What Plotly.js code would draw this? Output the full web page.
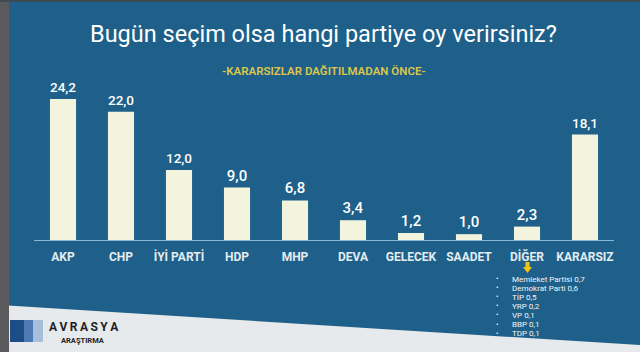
<!DOCTYPE html>
<html>
<head>
<meta charset="utf-8">
<script src="https://cdn.plot.ly/plotly-3.0.1.min.js"></script>
<style>html,body{margin:0;padding:0;background:#1e6089;}#chart{width:640px;height:352px;}</style>
</head>
<body>
<div id="chart"></div>
<script>
// ---- data ----
const parties = ["AKP", "CHP", "İYİ PARTİ", "HDP", "MHP", "DEVA", "GELECEK", "SAADET", "DİĞER", "KARARSIZ"];
const shares  = [24.2, 22.0, 12.0, 9.0, 6.8, 3.4, 1.2, 1.0, 2.3, 18.1];
const otherNames  = ["Memleket Partisi", "Demokrat Parti", "TİP", "YRP", "VP", "BBP", "TDP"];
const otherShares = [0.7, 0.6, 0.5, 0.2, 0.1, 0.1, 0.1];
const titleText = "Bugün seçim olsa hangi partiye oy verirsiniz?";
const subtitleText = "-KARARSIZLAR DAĞITILMADAN ÖNCE-";

// ---- layout helpers (pixel -> paper) ----
const W = 640, H = 352, ML = 34, MR = 26, MT = 60, MB = 112;
const PW = W - ML - MR, PH = H - MT - MB;
const px = x => (x - ML) / PW;
const py = y => (H - MB - y) / PH;

const FONT = "Roboto, 'DejaVu Sans', sans-serif";

const trace = {
  type: "bar",
  x: parties,
  y: shares,
  width: 0.45,
  marker: {color: "#f2f4dd", line: {width: 0}},
  texttemplate: "%{y:.1f}",
  textposition: "outside",
  cliponaxis: false,
  textfont: {family: FONT, size: 15, color: "#ffffff", weight: 500},
  hoverinfo: "x+y"
};

const annotations = [
  {xref: "paper", yref: "paper", x: px(323), y: py(34), text: titleText, showarrow: false,
   font: {family: FONT, size: 23.5, color: "#ffffff"}, xanchor: "center", yanchor: "middle"},
  {xref: "paper", yref: "paper", x: px(324), y: py(71), text: subtitleText, showarrow: false,
   font: {family: FONT, size: 11.5, color: "#dcc64c", weight: 600}, xanchor: "center", yanchor: "middle"},
  {xref: "paper", yref: "paper", x: px(47), y: py(327), text: "A\u2009V\u2009R\u2009A\u2009S\u2009Y\u2009A", showarrow: false,
   font: {family: FONT, size: 12, color: "#1f1f24", weight: 700}, xanchor: "left", yanchor: "middle"},
  {xref: "paper", yref: "paper", x: px(59), y: py(340), text: "ARAŞTIRMA", showarrow: false,
   font: {family: FONT, size: 7.5, color: "#1f1f24", weight: 700}, xanchor: "left", yanchor: "middle"}
];
otherNames.forEach((n, i) => {
  const yy = 279 + i * 9.1;
  annotations.push({xref: "paper", yref: "paper", x: px(497), y: py(yy), text: "•", showarrow: false,
    font: {family: FONT, size: 7, color: "#ffffff"}, xanchor: "center", yanchor: "middle"});
  annotations.push({xref: "paper", yref: "paper", x: px(510), y: py(yy),
    text: n + " " + otherShares[i].toFixed(1).replace(".", ","), showarrow: false,
    font: {family: FONT, size: 8, color: "#f2f5f7"}, xanchor: "left", yanchor: "middle"});
});

const shapes = [
  // bottom light band
  {type: "path", xref: "paper", yref: "paper", layer: "below",
   path: `M ${px(0)} ${py(305)} L ${px(640)} ${py(345)} L ${px(640)} ${py(352)} L ${px(0)} ${py(352)} Z`,
   fillcolor: "#e6eaec", line: {width: 0}},
  // left grey strip
  {type: "rect", xref: "paper", yref: "paper", x0: px(0), x1: px(9), y0: py(0), y1: py(352),
   fillcolor: "#5b5b5d", line: {width: 0}},
  // top thin strip
  {type: "rect", xref: "paper", yref: "paper", x0: px(0), x1: px(640), y0: py(0), y1: py(2),
   fillcolor: "#3f4a55", line: {width: 0}},
  // logo blocks
  {type: "rect", xref: "paper", yref: "paper", x0: px(10), x1: px(24), y0: py(320), y1: py(342),
   fillcolor: "#1d4d86", line: {width: 0}},
  {type: "rect", xref: "paper", yref: "paper", x0: px(24), x1: px(33), y0: py(320), y1: py(342),
   fillcolor: "#4f7bb4", line: {width: 0}},
  {type: "rect", xref: "paper", yref: "paper", x0: px(33), x1: px(43), y0: py(320), y1: py(342),
   fillcolor: "#a8bfdc", line: {width: 0}},
  // yellow arrow under DİĞER
  {type: "path", xref: "paper", yref: "paper",
   path: `M ${px(525.5)} ${py(262)} L ${px(529.5)} ${py(262)} L ${px(529.5)} ${py(267)} L ${px(532)} ${py(267)} L ${px(527.5)} ${py(273)} L ${px(523)} ${py(267)} L ${px(525.5)} ${py(267)} Z`,
   fillcolor: "#f0c419", line: {width: 0}}
];

const layout = {
  width: W, height: H,
  margin: {l: ML, r: MR, t: MT, b: MB, pad: 0},
  paper_bgcolor: "#1e6089",
  plot_bgcolor: "rgba(0,0,0,0)",
  separators: ",.",
  showlegend: false,
  bargap: 0.55,
  xaxis: {
    type: "category", range: [-0.5, 9.5], fixedrange: true,
    showline: true, linecolor: "#8cb6d0", linewidth: 1,
    showgrid: false, zeroline: false, ticks: "outside", ticklen: 6, tickcolor: "rgba(0,0,0,0)",
    tickfont: {family: FONT, size: 12, color: "#e4ecf1", weight: 700}
  },
  yaxis: {
    range: [0, PH / (141 / 24.2)], visible: false, showgrid: false, zeroline: false, fixedrange: true
  },
  annotations: annotations,
  shapes: shapes
};

Plotly.newPlot("chart", [trace], layout, {displayModeBar: false, staticPlot: true});
</script>
</body>
</html>
